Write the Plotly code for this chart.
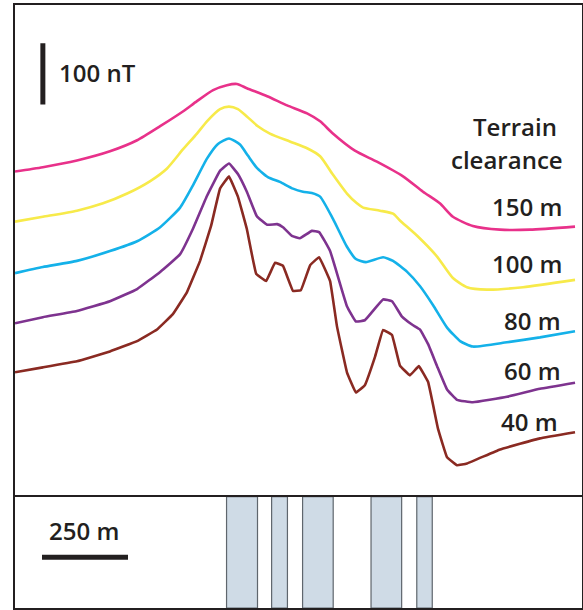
import plotly.graph_objects as go

W, H = 583, 610

# ---- magnetic profiles: distance along line (m) and anomaly (nT, relative to west end)
pink_x = [0, 81, 180, 276, 355, 422, 488, 529, 576, 616, 645, 674, 733, 791, 849, 887, 924,
          988, 1052, 1128, 1186, 1235, 1273, 1331, 1410, 1497, 1628]
pink_nt = [0, 7, 18, 33, 51, 74, 98, 115, 133, 141, 143, 136, 123, 108, 95, 82, 62,
           34, 16, -8, -33, -52, -74, -89, -95, -95, -90]

yellow_x = [0, 81, 180, 256, 326, 392, 442, 488, 529, 558, 596, 622, 648, 674, 706, 741, 799,
            849, 887, 924, 965, 994, 1012, 1061, 1099, 1119, 1169, 1227, 1273, 1314, 1372, 1477, 1628]
yellow_nt = [0, 8, 18, 30, 46, 66, 87, 118, 144, 164, 184, 188, 184, 172, 156, 144, 131,
             120, 107, 77, 46, 30, 23, 18, 13, 2, -23, -57, -92, -107, -111, -107, -95]

cyan_x = [0, 81, 180, 276, 355, 422, 480, 517, 558, 590, 622, 654, 677, 703, 735, 770, 808,
          837, 863, 887, 924, 965, 991, 1020, 1070, 1099, 1140, 1177, 1215, 1256, 1294, 1331,
          1430, 1526, 1628]
cyan_nt = [0, 10, 20, 36, 52, 75, 107, 143, 187, 211, 220, 210, 192, 172, 157, 149, 138,
           133, 131, 125, 89, 43, 23, 18, 26, 20, 2, -21, -52, -89, -111, -120,
           -113, -105, -95]

purple_x = [0, 81, 180, 276, 355, 422, 480, 517, 558, 596, 622, 648, 674, 703, 733, 762, 779,
            805, 828, 863, 884, 916, 965, 991, 1017, 1070, 1096, 1125, 1154, 1177, 1201, 1227,
            1256, 1285, 1331, 1430, 1526, 1628]
purple_nt = [0, 10, 20, 36, 56, 84, 113, 154, 208, 249, 261, 244, 215, 175, 161, 162, 157,
             143, 139, 151, 149, 118, 28, 3, 5, 39, 36, 11, -2, -10, -34, -70,
             -108, -125, -129, -120, -107, -97]

brown_x = [0, 81, 180, 276, 355, 413, 459, 500, 538, 570, 596, 622, 648, 674, 701, 730, 756,
           779, 808, 831, 858, 884, 916, 936, 965, 991, 1017, 1047, 1070, 1096, 1119, 1148,
           1174, 1201, 1230, 1256, 1285, 1314, 1410, 1526, 1628]
brown_nt = [0, 8, 18, 34, 51, 70, 95, 131, 182, 239, 300, 320, 287, 234, 161, 149, 179,
            174, 133, 134, 175, 188, 149, 75, 0, -33, -21, 26, 69, 61, 11, -5,
            10, -16, -93, -139, -152, -149, -126, -108, -98]

clearances = ["150 m", "100 m", "80 m", "60 m", "40 m"]

# ---- magnetised bodies (m along profile)
body_start = [615, 746, 836, 1035, 1168]
body_end = [705, 792, 925, 1124, 1213]

SCALE_NT = 100
SCALE_M = 250

# ---- styling / layout (display only)
colors = ["#e8318a", "#f7ea4a", "#14b1e9", "#7e338f", "#8a2a22"]
smooth = [0.6, 0.6, 0.5, 0.3, 0.2]
offsets = [528, 446, 362, 280, 200]   # vertical stacking of profiles (nT)
X_RANGE = [0, 1648.3]
Y_RANGE = [0, 800]
INK = "#231f20"
FONT = "Open Sans"

profiles = [(pink_x, pink_nt), (yellow_x, yellow_nt), (cyan_x, cyan_nt),
            (purple_x, purple_nt), (brown_x, brown_nt)]

fig = go.Figure()
for (xs, vs), c, sm, off, name in zip(profiles, colors, smooth, offsets, clearances):
    fig.add_trace(go.Scatter(x=xs, y=[v + off for v in vs], mode="lines", name=name,
                             line=dict(color=c, width=2.6, shape="spline", smoothing=sm),
                             hoverinfo="skip", xaxis="x", yaxis="y"))

# 100 nT scale bar
fig.add_trace(go.Scatter(x=[81, 81], y=[637.6, 637.6 + SCALE_NT], mode="lines",
                         line=dict(color=INK, width=5), hoverinfo="skip",
                         xaxis="x", yaxis="y"))

# bodies
fig.add_trace(go.Bar(x=[(a + b) / 2 for a, b in zip(body_start, body_end)],
                     y=[1] * len(body_start), base=0,
                     width=[b - a for a, b in zip(body_start, body_end)],
                     marker=dict(color="#cfdbe6", line=dict(color="#5f666d", width=1.2)),
                     xaxis="x2", yaxis="y2", hoverinfo="skip"))

# 250 m scale bar
fig.add_trace(go.Scatter(x=[78.5, 78.5 + SCALE_M], y=[0.456, 0.456], mode="lines",
                         line=dict(color=INK, width=5), hoverinfo="skip",
                         xaxis="x2", yaxis="y2"))

xd = [15 / W, 582 / W]
top_dom = [1 - 494.7 / H, 1 - 5 / H]
bot_dom = [1 - 608 / H, 1 - 496.7 / H]
ax = dict(showgrid=False, zeroline=False, showticklabels=False, ticks="",
          showline=True, mirror=True, linecolor=INK, linewidth=2, fixedrange=True)

fig.update_layout(
    width=W, height=H, margin=dict(l=0, r=0, t=0, b=0),
    paper_bgcolor="white", plot_bgcolor="white", showlegend=False,
    xaxis=dict(domain=xd, range=X_RANGE, anchor="y", **ax),
    yaxis=dict(domain=top_dom, range=Y_RANGE, anchor="x", **ax),
    xaxis2=dict(domain=xd, range=X_RANGE, anchor="y2", **ax),
    yaxis2=dict(domain=bot_dom, range=[0, 1], anchor="x2", **ax),
    bargap=0,
)

def px_ann(text, x, y, xanchor):
    fig.add_annotation(text=text, x=x / W, y=1 - y / H, xref="paper", yref="paper",
                       xanchor=xanchor, yanchor="middle", showarrow=False,
                       font=dict(family=FONT, size=24, color=INK, weight=600))

px_ann("100 nT", 57, 73, "left")
px_ann("Terrain", 559, 127, "right")
px_ann("clearance", 565, 159, "right")
label_y = [206, 263, 320, 370, 422]
label_r = [564, 564, 563, 563, 560]
for t, yy, rr in zip(clearances, label_y, label_r):
    px_ann(t, rr, yy, "right")
px_ann("250 m", 84, 530, "center")

fig.write_html("out.html", config={"staticPlot": True},
               post_script="document.body.style.margin='0px';document.body.style.overflow='hidden';")
